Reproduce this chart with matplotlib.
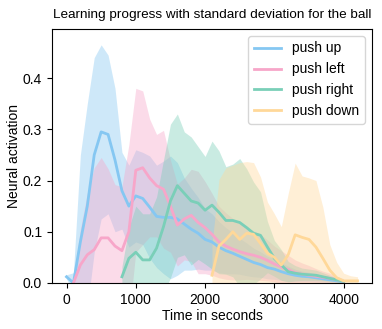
import numpy as np
import matplotlib
matplotlib.use("Agg")
import matplotlib.pyplot as plt

plt.rcParams['font.family'] = ['Liberation Sans', 'DejaVu Sans']

nan = np.nan
time = list(range(0, 4300, 100))

up_mean = [0.012, 0.0, 0.08, 0.15, 0.25, 0.295, 0.29, 0.24, 0.18, 0.15,
           0.17, 0.165, 0.148, 0.13, 0.128, 0.128, 0.125, 0.115, 0.105, 0.097,
           0.085, 0.08, 0.07, 0.063, 0.058, 0.052, 0.046, 0.04, 0.036, 0.03,
           0.027, 0.022, 0.018, 0.015, 0.013, 0.012, 0.01, 0.008, 0.006, 0.004,
           0.002, nan, nan]
up_std = [0.004, 0.02, 0.17, 0.2, 0.19, 0.17, 0.155, 0.14, 0.075, 0.08,
          0.09, 0.09, 0.1, 0.1, 0.11, 0.12, 0.11, 0.09, 0.08, 0.07,
          0.06, 0.055, 0.05, 0.045, 0.04, 0.035, 0.032, 0.028, 0.025, 0.022,
          0.02, 0.017, 0.015, 0.012, 0.01, 0.009, 0.008, 0.006, 0.005, 0.004,
          0.003, nan, nan]

left_mean = [nan, 0.0, 0.035, 0.055, 0.065, 0.088, 0.088, 0.072, 0.063, 0.1,
             0.22, 0.225, 0.205, 0.19, 0.183, 0.15, 0.113, 0.125, 0.132, 0.118,
             0.108, 0.095, 0.08, 0.072, 0.066, 0.061, 0.057, 0.054, 0.05, 0.044,
             0.037, 0.031, 0.026, 0.02, 0.017, 0.015, 0.013, 0.011, 0.009, 0.006,
             0.003, nan, nan]
left_std = [nan, 0.01, 0.07, 0.12, 0.16, 0.157, 0.135, 0.12, 0.125, 0.17,
            0.16, 0.15, 0.115, 0.1, 0.115, 0.09, 0.08, 0.08, 0.09, 0.1,
            0.09, 0.08, 0.07, 0.065, 0.06, 0.055, 0.05, 0.048, 0.045, 0.04,
            0.035, 0.032, 0.028, 0.025, 0.022, 0.019, 0.015, 0.012, 0.01, 0.007,
            0.005, nan, nan]

right_mean = [nan, nan, nan, nan, nan, nan, nan, nan, 0.012, 0.048,
              0.06, 0.045, 0.045, 0.068, 0.11, 0.16, 0.19, 0.175, 0.16, 0.156,
              0.142, 0.152, 0.138, 0.122, 0.122, 0.118, 0.108, 0.097, 0.093, 0.07,
              0.048, 0.035, 0.022, 0.019, 0.017, 0.016, 0.015, 0.012, 0.009, 0.006,
              0.003, nan, nan]
right_std = [nan, nan, nan, nan, nan, nan, nan, nan, 0.02, 0.06,
             0.09, 0.09, 0.09, 0.1, 0.13, 0.15, 0.14, 0.12, 0.125, 0.11,
             0.105, 0.125, 0.12, 0.105, 0.11, 0.125, 0.115, 0.1, 0.085, 0.05,
             0.035, 0.03, 0.02, 0.015, 0.012, 0.011, 0.01, 0.008, 0.006, 0.004,
             0.003, nan, nan]

down_mean = [nan] * 21 + [0.015, 0.072, 0.085, 0.1, 0.085, 0.097, 0.095, 0.077, 0.058,
                          0.05, 0.035, 0.055, 0.094, 0.089, 0.085, 0.07, 0.048, 0.025, 0.01,
                          0.004, 0.004, 0.004]
down_std = [nan] * 21 + [0.06, 0.13, 0.14, 0.13, 0.15, 0.14, 0.14, 0.13, 0.1,
                         0.085, 0.075, 0.12, 0.14, 0.12, 0.12, 0.13, 0.1, 0.05, 0.03,
                         0.015, 0.01, 0.008]

labels = ["push up", "push left", "push right", "push down"]
colors = ["#85C7F2", "#F7A6C9", "#7ACFB8", "#FFD899"]
means = [up_mean, left_mean, right_mean, down_mean]
stds = [up_std, left_std, right_std, down_std]

fig = plt.figure(figsize=(3.82, 3.29), dpi=100)
ax = fig.add_axes([0.136, 0.14, 0.838, 0.772])

t = np.array(time, dtype=float)
for lab, c, m, s in zip(labels, colors, means, stds):
    m = np.array(m, dtype=float)
    s = np.array(s, dtype=float)
    ax.fill_between(t, m - s, m + s, color=c, alpha=0.4, linewidth=0)
for lab, c, m in zip(labels, colors, means):
    ax.plot(t, m, color=c, linewidth=2, label=lab)

ax.set_xlim(-210, 4410)
ax.set_ylim(0, 0.496)
ax.set_xticks([0, 1000, 2000, 3000, 4000])
ax.set_yticks([0.0, 0.1, 0.2, 0.3, 0.4])
ax.tick_params(labelsize=10)
ax.set_xlabel("Time in seconds", fontsize=10, labelpad=2)
ax.set_ylabel("Neural activation", fontsize=10, labelpad=1)
ax.set_title("Learning progress with standard deviation for the ball", fontsize=9.7, pad=8)
ax.legend(loc="upper right", fontsize=10, handlelength=2.0)

fig.savefig("out.png", dpi=100)
